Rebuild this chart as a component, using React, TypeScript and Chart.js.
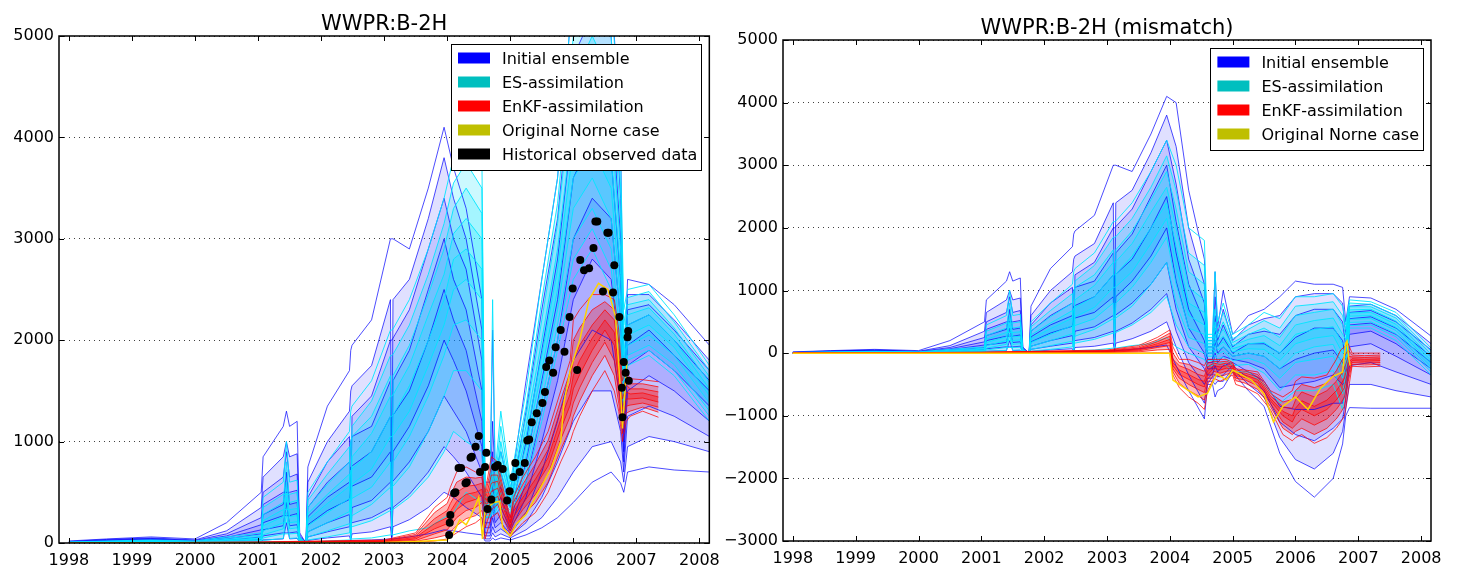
import React, { useEffect, useRef } from 'react';
import { Chart, registerables } from 'chart.js';
Chart.register(...registerables);

const FONT = "'DejaVu Sans', 'Liberation Sans', sans-serif";

// ---------- axes ----------
const yearTicks = [1998, 1999, 2000, 2001, 2002, 2003, 2004, 2005, 2006, 2007, 2008];
const leftYTicks = [0, 1000, 2000, 3000, 4000, 5000];
const rightYTicks = [-3000, -2000, -1000, 0, 1000, 2000, 3000, 4000, 5000];
const xMin = 1997.843;
const xMax = 2008.157;

const legendLabels = ['Initial ensemble', 'ES-assimilation', 'EnKF-assimilation', 'Original Norne case', 'Historical observed data'];
const legendColors = ['#0000ff', '#00bfbf', '#ff0000', '#bfbf00', '#000000'];

// ---------- time grids (decimal years) ----------
const ensembleTimes = [
  1998.0, 1998.6, 1999.3, 2000.0, 2000.5, 2001.05, 2001.08, 2001.4, 2001.45, 2001.5,
  2001.62, 2001.66, 2001.76, 2001.79, 2002.1, 2002.45, 2002.47, 2002.49, 2002.8, 2003.1,
  2003.12, 2003.14, 2003.4, 2003.7, 2003.95, 2004.1, 2004.3, 2004.55, 2004.6, 2004.68,
  2004.72, 2004.76, 2004.85, 2005.0, 2005.25, 2005.5, 2005.75, 2006.0, 2006.3, 2006.6,
  2006.75, 2006.8, 2006.86, 2007.2, 2007.6, 2008.16,
];
const enkfTimes = [
  1998.0, 2001.0, 2003.0, 2003.5, 2003.8, 2004.0, 2004.05, 2004.15, 2004.3, 2004.45,
  2004.55, 2004.6, 2004.7, 2004.8, 2004.9, 2005.0, 2005.05, 2005.2, 2005.4, 2005.6,
  2005.8, 2005.95, 2006.0, 2006.1, 2006.3, 2006.5, 2006.65, 2006.72, 2006.78, 2006.84,
  2006.9, 2007.1, 2007.35,
];

// ---------- left panel: WWPR:B-2H ----------
const initialLeft: number[][] = [
  [0,2,5,1,3,5,10,12,12,12,12,2,0,8,15,20,25,25,30,40,40,40,60,90,130,120,100,80,20,20,50,30,50,30,80,150,250,400,600,700,590,500,700,750,720,700],
  [1,5,10,3,8,15,30,40,200,40,45,5,0,25,50,70,20,90,110,160,30,160,230,350,500,450,350,250,40,40,100,60,90,50,130,250,450,700,950,1000,800,600,950,1050,1000,900],
  [2,8,15,5,15,35,70,100,100,100,110,10,0,60,110,160,200,200,250,350,60,350,480,700,950,850,700,450,70,70,160,100,140,70,200,450,800,1200,1500,1500,1100,700,1250,1350,1250,1050],
  [3,10,20,8,25,60,130,170,400,170,180,20,0,110,200,280,50,350,420,600,600,610,800,1100,1450,1300,1100,700,100,100,250,150,200,90,300,700,1200,1800,2100,2000,1400,800,1500,1650,1500,1200],
  [5,15,30,12,40,90,200,270,270,270,290,30,0,180,320,430,550,560,650,900,100,900,1150,1550,2000,1800,1500,950,150,150,350,200,280,120,450,1000,1600,2400,2800,2600,1800,900,1750,1900,1700,1350],
  [6,20,35,15,55,130,280,380,700,380,400,40,0,260,450,600,750,760,900,1250,1250,1260,1500,2000,2500,2200,1900,1200,200,200,450,280,350,150,600,1300,2000,3000,3400,3200,2200,1000,1950,2100,1850,1500],
  [8,25,40,20,70,180,380,500,500,500,520,50,0,350,600,800,1000,1050,1150,1600,200,1600,1900,2500,3000,2600,2300,1500,250,250,600,350,450,200,800,1600,2400,3600,4000,3800,2600,1100,2150,2250,2000,1600],
  [10,30,45,25,90,250,500,650,900,650,680,60,0,450,800,1050,300,1250,1450,2000,2000,2020,2300,2900,3400,3000,2700,1800,300,300,900,450,550,250,1000,1900,2800,4200,4600,4400,3000,1200,2300,2350,2100,1700],
  [15,35,50,30,120,350,650,850,1000,850,880,80,0,600,1000,1300,1500,1550,1750,2400,300,2400,2600,3200,3800,3400,3000,2100,400,400,1200,600,700,350,1300,2300,3200,4800,5200,5000,3400,1300,2450,2450,2200,1800],
  [20,40,60,40,200,500,850,1150,1300,1150,1200,100,0,750,1350,1700,1900,1950,2200,3000,3000,3000,2900,3500,4100,3700,3300,2400,600,600,2100,700,900,500,1600,2600,3600,5500,5500,5500,4000,1500,2600,2550,2350,1950],
];
const esLeft: number[][] = [
  [0,1,2,1,2,3,10,15,15,15,15,5,0,12,20,30,40,40,50,80,80,80,120,150,250,300,500,400,250,250,300,280,350,300,600,1200,1900,2600,2900,2500,1800,1300,1750,1850,1650,1200],
  [0,2,3,2,5,6,25,45,300,45,50,10,0,30,60,100,150,160,220,320,320,330,450,650,900,1100,1000,900,260,260,320,300,420,320,680,1300,2000,2800,3100,2700,1900,1350,1800,1900,1700,1250],
  [1,3,5,3,8,12,50,90,90,90,95,15,0,60,120,190,30,270,380,550,550,560,750,1100,1450,1700,1700,1500,280,280,350,320,500,340,750,1400,2150,3000,3300,2900,2000,1400,1850,1950,1760,1300],
  [2,4,7,4,12,20,80,140,450,140,150,20,0,110,200,310,420,440,550,800,80,800,1050,1450,1850,2150,2200,2000,300,300,400,350,600,370,850,1550,2300,3300,3600,3200,2200,1500,1950,2050,1850,1380],
  [3,6,10,6,17,30,120,200,200,200,210,25,0,170,300,440,50,580,730,1050,1050,1060,1300,1750,2150,2500,2600,2400,320,320,450,380,700,400,950,1700,2500,3600,3900,3500,2400,1600,2050,2150,1930,1450],
  [4,8,12,8,22,40,170,260,600,260,270,30,0,230,390,560,720,730,900,1250,1250,1260,1550,2000,2400,2800,2900,2700,350,350,500,420,800,430,1050,1850,2700,3900,4200,3800,2650,1700,2150,2250,2000,1520],
  [5,10,16,10,28,50,220,330,330,330,340,35,0,290,480,680,100,850,1080,1450,1450,1460,1750,2250,2650,3050,3200,3000,380,380,600,450,900,470,1150,2000,2900,4200,4600,4200,2900,1850,2250,2320,2060,1580],
  [6,12,20,12,35,65,280,400,800,400,420,40,0,350,580,800,1000,1050,1250,1650,150,1650,1950,2450,2900,3300,3500,3250,400,400,700,500,1000,500,1250,2200,3150,4600,5000,4600,3200,2000,2350,2400,2120,1640],
  [8,15,25,15,45,80,350,480,480,480,500,50,0,420,680,950,200,1150,1400,1850,1850,1860,2150,2650,3150,3550,3750,3500,450,450,800,600,1150,550,1350,2400,3350,5000,5300,5000,3500,2150,2420,2480,2180,1700],
  [10,20,30,20,60,100,450,600,1000,600,620,60,0,500,800,1100,1300,1350,1600,2100,2100,2110,2400,2900,3400,3800,4000,3800,500,500,2400,700,1300,600,1500,2600,3600,5500,5500,5500,3800,2300,2500,2550,2250,1750],
];
const enkfLeft: number[][] = [
  [0,0,0,5,20,40,60,100,160,200,250,40,250,300,150,60,100,200,300,500,800,1000,1100,1250,1500,1700,1500,1300,1000,1200,1250,1300,1240],
  [0,2,5,15,50,80,110,170,240,270,320,150,330,380,220,90,150,270,400,600,920,1130,1250,1400,1650,1850,1650,1380,1080,1280,1300,1340,1290],
  [0,3,8,25,90,130,170,250,320,350,400,250,420,460,280,120,200,330,480,680,1020,1250,1380,1530,1780,1980,1800,1480,1150,1350,1360,1380,1340],
  [0,4,12,40,140,190,240,330,400,430,470,330,510,540,330,150,260,390,560,760,1120,1360,1520,1660,1900,2100,1950,1600,1230,1420,1420,1430,1390],
  [0,5,16,55,190,250,310,410,480,500,530,380,590,610,380,170,310,450,630,840,1220,1470,1650,1800,2020,2200,2080,1730,1320,1490,1470,1480,1440],
  [0,6,20,70,240,320,390,500,560,570,590,420,670,670,420,200,350,510,700,920,1320,1580,1800,1950,2150,2300,2200,1850,1420,1560,1520,1520,1490],
  [0,8,25,85,300,390,470,600,650,640,650,460,760,740,460,220,400,580,780,1010,1410,1690,2000,2120,2300,2380,2300,1980,1510,1630,1570,1570,1540],
  [0,10,30,100,350,450,550,700,750,700,700,500,850,800,500,250,450,650,850,1100,1500,1800,2200,2300,2450,2450,2400,2100,1600,1700,1620,1610,1590],
];
const norneTimesLeft = [
  1998.0, 2001.0, 2003.0, 2003.5, 2004.0, 2004.1, 2004.2, 2004.3, 2004.38, 2004.5,
  2004.56, 2004.6, 2004.74, 2004.83, 2004.88, 2005.0, 2005.1, 2005.25, 2005.45, 2005.65,
  2005.8, 2005.85, 2005.95, 2006.1, 2006.25, 2006.4, 2006.55, 2006.67, 2006.75, 2006.78, 2006.85,
];
const norneValuesLeft = [
  0, 0, 5, 15, 30, 100, 230, 180, 270, 450,
  40, 330, 400, 410, 150, 70, 190, 280, 510, 740,
  1000, 1380, 1700, 2000, 2400, 2560, 2500, 2230, 1480, 1130, 1790,
];
const observedTimes = [
  2004.03, 2004.04, 2004.05, 2004.11, 2004.13, 2004.18, 2004.22, 2004.29, 2004.31, 2004.37,
  2004.39, 2004.45, 2004.5, 2004.52, 2004.6, 2004.62, 2004.64, 2004.7, 2004.76, 2004.8,
  2004.88, 2004.95, 2004.99, 2005.05, 2005.08, 2005.15, 2005.23, 2005.27, 2005.3, 2005.34,
  2005.42, 2005.51, 2005.55, 2005.57, 2005.62, 2005.68, 2005.72, 2005.8, 2005.86, 2005.94,
  2005.99, 2006.06, 2006.11, 2006.17, 2006.25, 2006.32, 2006.35, 2006.38, 2006.47, 2006.54,
  2006.56, 2006.63, 2006.65, 2006.73, 2006.77, 2006.78, 2006.8, 2006.83, 2006.86, 2006.87, 2006.88,
];
const observedValues = [
  80, 200, 275, 490, 500, 740, 740, 590, 600, 840,
  850, 950, 1055, 700, 750, 890, 335, 430, 750, 770,
  730, 420, 510, 650, 790, 700, 790, 1010, 1020, 1190,
  1280, 1380, 1490, 1735, 1800, 1680, 1930, 2100, 1885, 2230,
  2510, 1705, 2790, 2690, 2710, 2910, 3170, 3170, 2480, 3060,
  3060, 2470, 2740, 2230, 1530, 1240, 1785, 1680, 2030, 2090, 1600,
];

// ---------- right panel: WWPR:B-2H (mismatch) ----------
const initialRight: number[][] = [
  [0,2,5,1,3,5,10,12,12,12,12,2,0,8,15,20,25,25,30,40,40,40,60,90,130,-200,-600,-1050,-500,-500,-700,-600,-550,-300,-600,-850,-1600,-2050,-2300,-2000,-1450,-1000,-870,-880,-880,-880],
  [1,5,10,3,8,15,30,40,200,40,45,5,0,25,50,70,20,90,110,160,30,160,230,350,500,100,-350,-800,-450,-450,-500,-450,-450,-250,-500,-700,-1350,-1700,-1850,-1600,-1250,-900,-500,-500,-600,-700],
  [2,8,15,5,15,35,70,100,100,100,110,10,0,60,110,160,200,200,250,350,60,350,480,700,950,350,-150,-500,-400,-400,-350,-380,-350,-200,-400,-600,-1100,-1300,-1400,-1200,-1050,-750,-200,-150,-300,-500],
  [3,10,20,8,25,60,130,170,400,170,180,20,0,110,200,280,50,350,420,600,600,610,800,1100,1450,700,100,-250,-350,-350,-200,-300,-200,-150,-300,-450,-850,-900,-900,-800,-800,-600,100,150,-50,-350],
  [5,15,30,12,40,90,200,270,270,270,290,30,0,180,320,430,550,560,650,900,100,900,1150,1550,2000,1150,400,0,-250,-250,0,-150,-50,-100,-150,-250,-550,-500,-450,-350,-500,-450,300,350,150,-250],
  [6,20,35,15,55,130,280,380,700,380,400,40,0,260,450,600,750,760,900,1250,1250,1260,1500,2000,2500,1600,700,200,-150,-150,200,0,100,-50,0,-50,-250,-100,0,50,-150,-300,450,480,300,-150],
  [8,25,40,20,70,180,380,500,500,500,520,50,0,350,600,800,1000,1050,1150,1600,200,1600,1900,2500,3000,2100,1100,500,-100,-100,400,100,250,0,150,150,0,250,400,400,200,-100,550,580,400,-50],
  [10,30,45,25,90,250,500,650,900,650,680,60,0,450,800,1050,300,1250,1450,2000,2000,2020,2300,2900,3400,2700,1500,800,0,0,600,200,450,100,300,350,300,600,700,700,500,100,650,680,500,50],
  [15,35,50,30,120,350,650,850,1000,850,880,80,0,600,1000,1300,1500,1550,1750,2400,300,2400,2600,3200,3800,3300,2000,1100,100,100,900,300,700,200,450,550,600,900,950,950,800,300,750,780,600,150],
  [20,40,60,40,200,500,850,1150,1300,1150,1200,100,0,750,1350,1700,1900,1950,2200,3000,3000,3000,2900,3500,4100,4000,2600,1500,200,200,1300,400,1000,300,600,700,900,1150,1100,1100,1050,500,900,880,700,270],
];
const esRight: number[][] = [
  [0,1,2,1,2,3,10,15,15,15,15,5,0,12,20,30,40,40,50,80,80,80,120,150,250,100,0,-100,-200,-200,-100,-180,-150,-300,-300,-500,-800,-600,-600,-500,-900,-500,400,400,200,-350],
  [0,2,3,2,5,6,25,45,300,45,50,10,0,30,60,100,150,160,220,320,320,330,450,650,900,450,100,0,-120,-120,-30,-100,-60,-200,-180,-320,-600,-350,-350,-280,-650,-330,440,450,260,-300],
  [1,3,5,3,8,12,50,90,90,90,95,15,0,60,120,190,30,270,380,550,550,560,750,1100,1450,800,250,150,-50,-50,50,-20,30,-120,-80,-170,-400,-150,-100,-50,-400,-180,490,500,310,-260],
  [2,4,7,4,12,20,80,140,450,140,150,20,0,110,200,310,420,440,550,800,80,800,1050,1450,1850,1100,400,300,0,0,120,50,100,-50,0,-50,-250,0,100,140,-200,-50,540,550,360,-220],
  [3,6,10,6,17,30,120,200,200,200,210,25,0,170,300,440,50,580,730,1050,1050,1060,1300,1750,2150,1400,600,450,50,50,200,100,180,20,70,60,-120,150,240,280,0,60,590,600,410,-170],
  [4,8,12,8,22,40,170,260,600,260,270,30,0,230,390,560,720,730,900,1250,1250,1260,1550,2000,2400,1700,800,650,100,100,300,180,270,70,150,170,0,300,380,420,150,140,640,650,460,-120],
  [5,10,16,10,28,50,220,330,330,330,340,35,0,290,480,680,100,850,1080,1450,1450,1460,1750,2250,2650,2000,1050,850,150,150,400,250,380,120,220,280,120,450,520,560,300,220,690,700,510,-70],
  [6,12,20,12,35,65,280,400,800,400,420,40,0,350,580,800,1000,1050,1250,1650,150,1650,1950,2450,2900,2300,1300,1100,200,200,500,300,500,170,300,400,250,600,650,700,450,300,740,740,560,-20],
  [8,15,25,15,45,80,350,480,480,480,500,50,0,420,680,950,200,1150,1400,1850,1850,1860,2150,2650,3150,2600,1600,1400,250,250,700,400,650,230,380,520,400,750,780,820,600,380,800,780,600,30],
  [10,20,30,20,60,100,450,600,1000,600,620,60,0,500,800,1100,1300,1350,1600,2100,2100,2110,2400,2900,3400,3000,2000,1800,300,300,1300,500,800,300,450,650,550,900,900,950,750,450,850,820,650,80],
];
const enkfRight: number[][] = [
  [0,0,0,0,5,0,-350,-550,-700,-800,-900,-600,-400,-450,-400,-350,-500,-550,-650,-900,-1300,-1400,-1350,-1300,-1440,-1350,-1200,-1100,-1000,-600,-210,-220,-210],
  [0,2,8,20,50,60,-300,-480,-600,-680,-750,-500,-340,-380,-340,-310,-440,-480,-580,-850,-1200,-1300,-1250,-1200,-1300,-1200,-1050,-950,-850,-450,-180,-190,-180],
  [0,4,15,35,90,120,-250,-400,-500,-580,-630,-420,-290,-320,-290,-280,-400,-430,-520,-800,-1100,-1200,-1150,-1050,-1150,-1050,-900,-800,-700,-350,-150,-160,-150],
  [0,6,22,50,120,170,-200,-340,-420,-500,-540,-350,-240,-270,-240,-250,-360,-390,-470,-760,-1000,-1100,-1000,-900,-1000,-900,-750,-650,-550,-250,-120,-130,-120],
  [0,8,28,65,150,220,-150,-270,-340,-420,-450,-280,-200,-220,-200,-220,-330,-350,-420,-720,-930,-1000,-880,-760,-850,-750,-600,-500,-400,-150,-90,-100,-90],
  [0,10,35,80,180,270,-100,-200,-260,-340,-370,-220,-160,-180,-160,-200,-300,-320,-380,-680,-860,-880,-750,-620,-700,-600,-450,-350,-250,-50,-60,-70,-60],
  [0,12,42,100,210,320,0,-150,-180,-250,-290,-160,-130,-140,-130,-170,-270,-290,-340,-640,-780,-740,-600,-500,-550,-480,-280,-150,-50,50,-30,-40,-30],
  [0,15,50,120,250,370,100,-100,-100,-150,-200,-100,-100,-100,-100,-150,-250,-270,-300,-600,-700,-600,-450,-380,-400,-350,-100,50,100,150,0,0,0],
];
const norneTimesRight = [
  1998.0, 2004.0, 2004.05, 2004.15, 2004.3, 2004.45, 2004.6, 2004.75, 2004.9, 2005.0,
  2005.15, 2005.3, 2005.5, 2005.65, 2005.8, 2006.0, 2006.2, 2006.4, 2006.6, 2006.75,
  2006.8, 2006.82, 2006.85, 2006.87,
];
const norneValuesRight = [
  0, 0, -430, -500, -600, -700, -640, -330, -430, -270,
  -350, -430, -650, -1100, -850, -700, -900, -560, -370, -300,
  160, 190, -100, -200,
];

// ---------- helpers ----------
const toPoints = (ts: number[], vs: number[]) => ts.map((t, i) => ({ x: t, y: vs[i] }));

function ensembleSets(ts: number[], members: number[][], line: string, fillColor: string, order: number, offset: number) {
  const mid = Math.floor(members.length / 2);
  const last = members.length - 1;
  return members.map((vs, i) => ({
    data: toPoints(ts, vs),
    borderColor: line,
    backgroundColor: fillColor,
    borderWidth: 1,
    pointRadius: 0,
    tension: 0,
    order,
    fill: i === mid || i === 0 || i === last ? false : { target: offset + mid },
  }));
}

const fmtY = (v: number) => (v < 0 ? '\u2212' + Math.abs(v) : String(v));

const decorPlugin = {
  id: 'decor',
  afterDraw(chart: any, _args: any, opts: any) {
    const { ctx, chartArea: a, scales } = chart;
    ctx.save();
    ctx.strokeStyle = '#000';
    ctx.lineWidth = 1;
    ctx.beginPath();
    for (const v of opts.xTicks) {
      const px = Math.round(scales.x.getPixelForValue(v)) + 0.5;
      ctx.moveTo(px, a.bottom); ctx.lineTo(px, a.bottom - 5);
      ctx.moveTo(px, a.top); ctx.lineTo(px, a.top + 5);
    }
    for (const v of opts.yTicks) {
      const py = Math.round(scales.y.getPixelForValue(v)) + 0.5;
      ctx.moveTo(a.left, py); ctx.lineTo(a.left + 5, py);
      ctx.moveTo(a.right, py); ctx.lineTo(a.right - 5, py);
    }
    ctx.stroke();
    ctx.lineWidth = 1.5;
    ctx.strokeRect(a.left, a.top, a.right - a.left, a.bottom - a.top);

    ctx.fillStyle = '#000';
    ctx.font = `21px ${FONT}`;
    ctx.textAlign = 'center';
    ctx.textBaseline = 'alphabetic';
    ctx.fillText(opts.title, (a.left + a.right) / 2, a.top - 6.5);

    ctx.font = `16px ${FONT}`;
    const labels = legendLabels.slice(0, opts.legendCount);
    const tw = Math.max(...labels.map((l: string) => ctx.measureText(l).width));
    const w = 7 + 32 + 12 + tw + 4;
    const rowH = 24;
    const h = 14 + (labels.length - 1) * rowH + 16;
    const right = a.right - 8;
    const top = a.top + 8;
    const left = right - w;
    ctx.fillStyle = '#fff';
    ctx.fillRect(left, top, w, h);
    ctx.lineWidth = 1;
    ctx.strokeStyle = '#000';
    ctx.strokeRect(Math.round(left) + 0.5, Math.round(top) + 0.5, Math.round(w), Math.round(h));
    ctx.textAlign = 'left';
    labels.forEach((lab: string, i: number) => {
      const cy = top + 14 + i * rowH;
      ctx.fillStyle = legendColors[i];
      ctx.fillRect(left + 7, cy - 5.5, 32, 11);
      ctx.fillStyle = '#000';
      ctx.fillText(lab, left + 7 + 32 + 12, cy + 5.8);
    });
    ctx.restore();
  },
};

function buildConfig(datasets: any[], yMin: number, yMax: number, yTicks: number[], yAxisWidth: number, xAxisHeight: number, padTop: number, padRight: number, title: string, legendCount: number) {
  const tickFont = { family: FONT, size: 16 };
  return {
    type: 'line',
    data: { datasets },
    options: {
      animation: false,
      responsive: false,
      devicePixelRatio: 1,
      events: [],
      layout: { padding: { top: padTop, right: padRight, left: 0, bottom: 0 } },
      plugins: {
        legend: { display: false },
        tooltip: { enabled: false },
        title: { display: false },
        filler: { drawTime: 'beforeDatasetsDraw', propagate: false },
        decor: { title, xTicks: yearTicks, yTicks, legendCount },
      },
      scales: {
        x: {
          type: 'linear',
          min: xMin,
          max: xMax,
          grid: { display: false, drawTicks: false },
          border: { display: false },
          ticks: { color: '#000', font: tickFont, padding: 8, maxRotation: 0, autoSkip: false, callback: (v: number) => String(v) },
          afterBuildTicks: (s: any) => { s.ticks = yearTicks.map((v) => ({ value: v })); },
          afterFit: (s: any) => { s.height = xAxisHeight; },
        },
        y: {
          type: 'linear',
          min: yMin,
          max: yMax,
          grid: { color: 'rgba(0,0,0,0.75)', lineWidth: 1, drawTicks: false },
          border: { display: false, dash: [1, 4] },
          ticks: { color: '#000', font: tickFont, padding: 5, callback: (v: number) => fmtY(v) },
          afterBuildTicks: (s: any) => { s.ticks = yTicks.map((v) => ({ value: v })); },
          afterFit: (s: any) => { s.width = yAxisWidth; },
        },
      },
    },
    plugins: [decorPlugin],
  };
}

const BLUE_LINE = 'rgba(0,0,255,0.7)';
const BLUE_FILL = 'rgba(0,0,255,0.12)';
const CYAN_LINE = 'rgba(0,230,255,0.9)';
const CYAN_FILL = 'rgba(0,225,255,0.2)';
const RED_LINE = 'rgba(255,0,0,0.75)';
const RED_FILL = 'rgba(255,0,0,0.28)';
const YELLOW_LINE = 'rgb(255,210,0)';

function panelDatasets(init: number[][], es: number[][], enkf: number[][], norneT: number[], norneV: number[], withObs: boolean) {
  const sets: any[] = [];
  sets.push(...ensembleSets(ensembleTimes, init, BLUE_LINE, BLUE_FILL, 4, sets.length));
  sets.push(...ensembleSets(ensembleTimes, es, CYAN_LINE, CYAN_FILL, 3, sets.length));
  sets.push(...ensembleSets(enkfTimes, enkf, RED_LINE, RED_FILL, 2, sets.length));
  sets.push({ data: toPoints(norneT, norneV), borderColor: YELLOW_LINE, borderWidth: 1.5, pointRadius: 0, tension: 0, fill: false, order: 1 });
  if (withObs) {
    sets.push({
      data: toPoints(observedTimes, observedValues),
      showLine: false,
      pointRadius: 4,
      pointBackgroundColor: '#000',
      pointBorderColor: '#000',
      pointBorderWidth: 0,
      borderColor: '#000',
      fill: false,
      order: 0,
    });
  }
  return sets;
}

function Panel(props: { config: any; left: number; width: number }) {
  const ref = useRef<HTMLCanvasElement>(null);
  useEffect(() => {
    const chart = new Chart(ref.current as HTMLCanvasElement, props.config);
    return () => chart.destroy();
  }, []);
  return (
    <div style={{ position: 'absolute', left: props.left, top: 0, width: props.width, height: 568 }}>
      <canvas ref={ref} width={props.width} height={568} style={{ display: 'block', width: props.width, height: 568 }} />
    </div>
  );
}

export default function App() {
  const leftConfig = buildConfig(
    panelDatasets(initialLeft, esLeft, enkfLeft, norneTimesLeft, norneValuesLeft, true),
    0, 5000, leftYTicks, 59, 25, 36, 14, 'WWPR:B-2H', 5,
  );
  const rightConfig = buildConfig(
    panelDatasets(initialRight, esRight, enkfRight, norneTimesRight, norneValuesRight, false),
    -3000, 5000, rightYTicks, 67, 27, 40, 27, 'WWPR:B-2H (mismatch)', 4,
  );
  return (
    <div style={{ position: 'fixed', left: 0, top: 0, width: 1458, height: 568, background: '#fff', overflow: 'hidden' }}>
      <Panel config={leftConfig} left={0} width={728} />
      <Panel config={rightConfig} left={716} width={742} />
    </div>
  );
}
